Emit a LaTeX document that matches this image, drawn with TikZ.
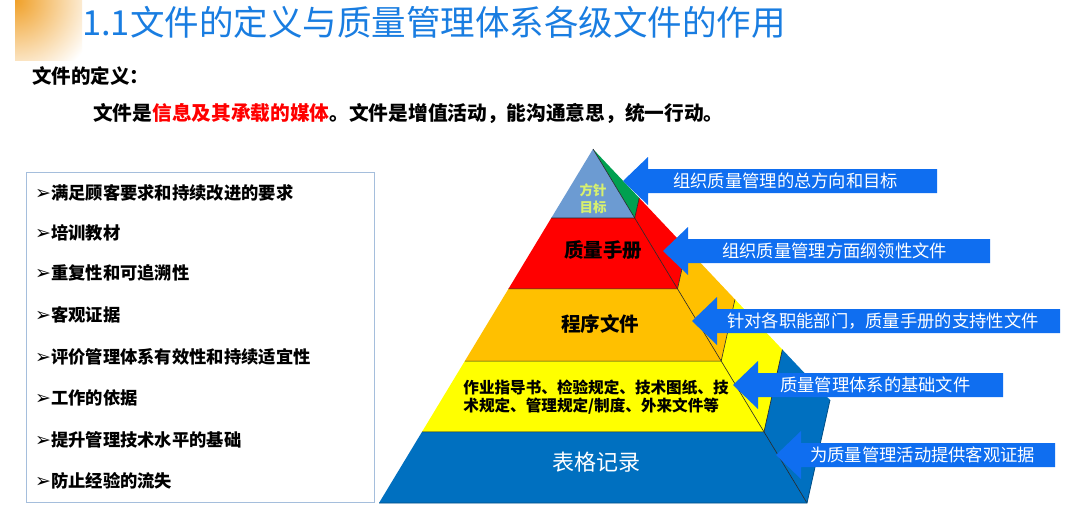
\documentclass[tikz,border=0pt]{standalone}
\usepackage{fontspec}
\setmainfont{Noto Sans CJK SC}
\newfontfamily\dejavu{DejaVu Sans}
\usetikzlibrary{calc}
\definecolor{arrowblue}{RGB}{15,110,240}
\definecolor{tierA}{RGB}{108,155,210}
\definecolor{sideA}{RGB}{0,160,80}
\definecolor{tierB}{RGB}{255,0,0}
\definecolor{tierC}{RGB}{255,192,0}
\definecolor{tierD}{RGB}{255,255,0}
\definecolor{tierE}{RGB}{0,112,192}
\definecolor{titleblue}{RGB}{25,125,225}
\definecolor{boxline}{RGB}{165,190,220}
\definecolor{capgreen}{RGB}{215,240,110}
\definecolor{glow}{RGB}{240,160,40}
\newcommand\fsz[1]{\fontsize{#1}{#1}\selectfont}
\newcommand\bluearrow[6]{%
  \fill[arrowblue] (#2,#3) -- ++(25,-24) -- ++(0,12) -- (#4,#3-12) -- (#4,#3+12) -- (#2+25,#3+12) -- ++(0,12) -- cycle;
  \node[arrowtext] (#1) at (#5,#3) {#6};}
\begin{document}
\begin{tikzpicture}[x=1pt,y=-1pt,
  arrowtext/.style={anchor=west,inner sep=0pt,text=white,font=\fsz{17.3}},
  itemtext/.style={anchor=west,inner sep=0pt,font=\fsz{17.3}\bfseries},
  divline/.style={draw=black!85,line width=0.6pt},
  tiertext/.style={inner sep=0pt,align=center}]
\useasboundingbox (0,0) rectangle (1080,520);
\fill[white] (0,0) rectangle (1080,520);
% corner glow
\begin{scope}
  \clip (15,0) rectangle (82,60);
  \shade[inner color=glow, outer color=white] (15,0) circle (85);
\end{scope}
% title and definition
\node[anchor=west,inner sep=0pt,text=titleblue,font=\fsz{34.5}] (title) at (82,22) {1.1文件的定义与质量管理体系各级文件的作用};
\node[anchor=west,inner sep=0pt,font=\fsz{19.5}\bfseries] (defhead) at (32,76) {文件的定义：};
\node[anchor=west,inner sep=0pt,font=\fsz{19.7}\bfseries] (defline) at (93,113) {文件是\textcolor{red}{信息及其承载的媒体}。文件是增值活动，能沟通意思，统一行动。};
% left box
\draw[boxline,line width=0.8pt] (26,172) rectangle (374,502);
\foreach \y/\t [count=\i] in {193/满足顾客要求和持续改进的要求,233/培训教材,273/重复性和可追溯性,315/客观证据,357/评价管理体系有效性和持续适宜性,398/工作的依据,440/提升管理技术水平的基础,481/防止经验的流失}{
  \node[itemtext] (item\i) at (35,\y) {{\dejavu\fsz{19}➢}\t};
}
% pyramid
\coordinate (A) at (593,149);
\coordinate (L) at (379,503);
\coordinate (R) at (807,503);
\coordinate (B) at (830,400);
\foreach \t [count=\i] in {0.195,0.395,0.599,0.799}{
  \coordinate (L\i) at ($(A)!\t!(L)$);
  \coordinate (R\i) at ($(A)!\t!(R)$);
  \coordinate (B\i) at ($(A)!\t!(B)$);
}
% side pieces
\fill[sideA] (A) -- (R1) -- (B1) -- cycle;
\fill[tierB] (R1) -- (B1) -- (B2) -- (R2) -- cycle;
\fill[tierC] (R2) -- (B2) -- (B3) -- (R3) -- cycle;
\fill[tierD] (R3) -- (B3) -- (B4) -- (R4) -- cycle;
\fill[tierE] (R4) -- (B4) -- (B) -- (R) -- cycle;
% front tiers
\fill[tierA] (A) -- (L1) -- (R1) -- cycle;
\fill[tierB] (L1) -- (R1) -- (R2) -- (L2) -- cycle;
\fill[tierC] (L2) -- (R2) -- (R3) -- (L3) -- cycle;
\fill[tierD] (L3) -- (R3) -- (R4) -- (L4) -- cycle;
\fill[tierE] (L4) -- (R4) -- (R) -- (L) -- cycle;
% lines
\foreach \i in {1,2,3,4}{
  \draw[divline] (L\i) -- (R\i) -- (B\i);
}
\draw[divline] (A) -- (R);
\draw[draw=tierE!70!black,line width=0.8pt] (L) -- (R) -- (B);
% tier texts
\node[tiertext,text=capgreen,font=\fsz{13.5}\bfseries,align=center] (cap) at (593,199) {方针\\[4pt]目标};
\node[tiertext,font=\fsz{19.5}\bfseries] (manual) at (603,250) {质量手册};
\node[tiertext,font=\fsz{19.5}\bfseries] (proc) at (600,324) {程序文件};
\node[tiertext,font=\fsz{15.6}\bfseries,align=left] (work) at (596,397) {作业指导书、检验规定、技术图纸、技\\[2.5pt]术规定、管理规定/制度、外来文件等};
\node[tiertext,text=white,font=\fsz{22}] (rec) at (596,462) {表格记录};
% arrows
\bluearrow{a1}{623}{181}{937}{673}{组织质量管理的总方向和目标}
\bluearrow{a2}{663}{251}{990}{722}{组织质量管理方面纲领性文件}
\bluearrow{a3}{692}{321}{1060}{727}{针对各职能部门，质量手册的支持性文件}
\bluearrow{a4}{733}{385}{1003}{780}{质量管理体系的基础文件}
\bluearrow{a5}{776}{455}{1055}{810}{为质量管理活动提供客观证据}
\end{tikzpicture}
\end{document}
